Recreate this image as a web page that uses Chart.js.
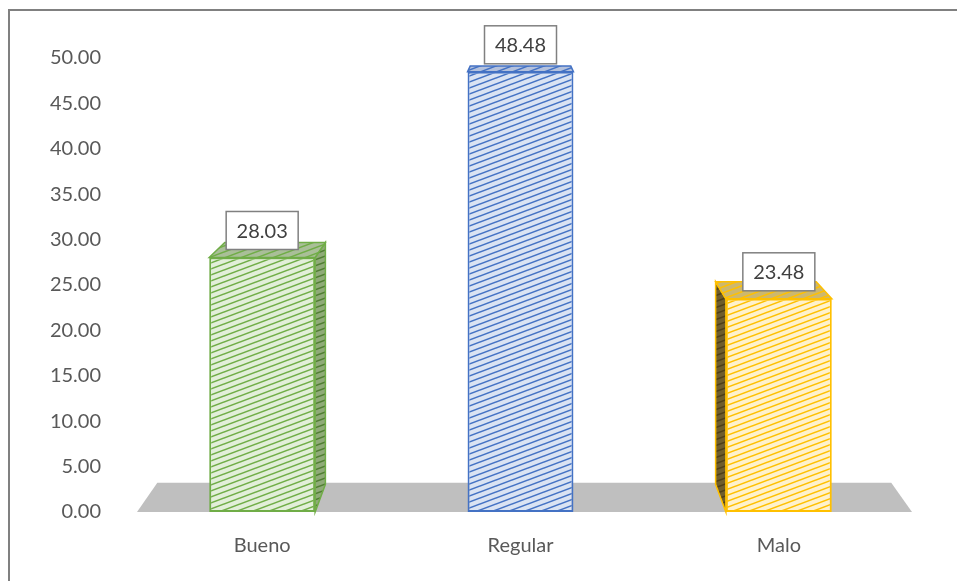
<!DOCTYPE html>
<html>
<head>
<meta charset="utf-8">
<script src="https://cdn.jsdelivr.net/npm/chart.js@4.4.0/dist/chart.umd.min.js"></script>
<style>
  body { margin: 0; background: #fff; }
  #wrap { width: 958px; height: 581px; position: relative; }
</style>
</head>
<body>
<div id="wrap"><canvas id="chart"></canvas></div>
<script>
// data
const categories = ["Bueno", "Regular", "Malo"];
const values = [28.03, 48.48, 23.48];
const yTicks = [0, 5, 10, 15, 20, 25, 30, 35, 40, 45, 50];

// face / line colours per bar
const faceBg   = ["#e2efd9", "#dae3f3", "#fff2cc"];
const faceLine = ["#70ad47", "#4472c4", "#ffc000"];
const sideBg   = ["#8fab78", "#8ea2c8", "#6e5d2c"];
const sideLine = ["#507e32", "#2f5597", "#4d3f17"];
const topBg    = ["#a9bf98", "#b4c1dc", "#cdb86e"];

// diagonal hatch tile
function hatch(bg, fg) {
    const w = 16, h = 6;
    const c = document.createElement("canvas");
    c.width = w; c.height = h;
    const g = c.getContext("2d");
    g.fillStyle = bg;
    g.fillRect(0, 0, w, h);
    g.strokeStyle = fg;
    g.lineWidth = 1.5;
    for (let i = -1; i <= 1; i++) {
        for (let j = -1; j <= 1; j++) {
            g.beginPath();
            g.moveTo(i * w, h + j * h);
            g.lineTo(i * w + w, j * h);
            g.stroke();
        }
    }
    return g.createPattern(c, "repeat");
}

const ctx0 = document.getElementById("chart").getContext("2d");
const frontPatterns = faceBg.map((b, i) => hatch(b, faceLine[i]));
const sidePatterns  = sideBg.map((b, i) => hatch(b, sideLine[i]));
const topPatterns   = topBg.map((b, i) => hatch(b, faceLine[i]));

// perspective: back points pulled towards a vanishing point above the plot
function vanish(chart) {
    const a = chart.chartArea;
    return { x: (a.left + a.right) / 2, y: a.top - 100 };
}
function back(p, v, t) {
    return { x: p.x + (v.x - p.x) * t, y: p.y + (v.y - p.y) * t };
}
function poly(ctx, pts, fill, stroke) {
    ctx.beginPath();
    ctx.moveTo(pts[0].x, pts[0].y);
    for (let k = 1; k < pts.length; k++) ctx.lineTo(pts[k].x, pts[k].y);
    ctx.closePath();
    ctx.fillStyle = fill;
    ctx.fill();
    if (stroke) {
        ctx.strokeStyle = stroke;
        ctx.lineWidth = 1.5;
        ctx.stroke();
    }
}

const frame = {
    id: "frame",
    beforeDraw(chart) {
        const c = chart.ctx;
        c.save();
        c.strokeStyle = "#808080";
        c.lineWidth = 2;
        c.beginPath();
        c.moveTo(9, chart.height);
        c.lineTo(9, 10);
        c.lineTo(chart.width - 1, 10);
        c.stroke();
        c.restore();
    }
};

const depth = {
    id: "depth",
    beforeDatasetsDraw(chart) {
        const c = chart.ctx;
        const a = chart.chartArea;
        const v = vanish(chart);
        const y0 = chart.scales.y.getPixelForValue(0);
        c.save();
        // grey floor
        const fl = { x: a.left + 4, y: y0 }, fr = { x: a.right + 4, y: y0 };
        poly(c, [fl, fr, back(fr, v, 0.053), back(fl, v, 0.053)], "#bfbfbf");

        const meta = chart.getDatasetMeta(0);
        meta.data.forEach((bar, i) => {
            const half = bar.width / 2;
            const L = bar.x - half, R = bar.x + half;
            const tl = { x: L, y: bar.y }, tr = { x: R, y: bar.y };
            const bl = { x: L, y: bar.base }, br = { x: R, y: bar.base };
            const t = 0.05;
            // side face: the one turned towards the vanishing point shows
            if (bar.x < v.x - 20) {
                poly(c, [tr, back(tr, v, t), back(br, v, t), br], sidePatterns[i], faceLine[i]);
            } else if (bar.x > v.x + 20) {
                poly(c, [tl, back(tl, v, t), back(bl, v, t), bl], sidePatterns[i], faceLine[i]);
            }
            // top face
            poly(c, [tl, tr, back(tr, v, t), back(tl, v, t)], topPatterns[i], faceLine[i]);
        });
        c.restore();
    },
    afterDatasetsDraw(chart) {
        const c = chart.ctx;
        const meta = chart.getDatasetMeta(0);
        c.save();
        c.font = "20px Lato";
        c.textAlign = "center";
        c.textBaseline = "middle";
        meta.data.forEach((bar, i) => {
            const w = 72, h = 38;
            const bx = bar.x - w / 2, by = bar.y - 8 - h;
            c.fillStyle = "#ffffff";
            c.fillRect(bx, by, w, h);
            c.strokeStyle = "#808080";
            c.lineWidth = 1.5;
            c.strokeRect(bx, by, w, h);
            c.fillStyle = "#404040";
            c.fillText(values[i].toFixed(2), bar.x, by + h / 2 + 1);
        });
        c.restore();
    }
};

new Chart(ctx0, {
    type: "bar",
    data: {
        labels: categories,
        datasets: [{
            data: values,
            backgroundColor: frontPatterns,
            borderColor: faceLine,
            borderWidth: 2,
            borderSkipped: false,
            categoryPercentage: 1,
            barPercentage: 0.41
        }]
    },
    options: {
        responsive: true,
        maintainAspectRatio: false,
        animation: false,
        layout: { padding: { top: 58, right: 50, left: 0, bottom: 0 } },
        plugins: {
            legend: { display: false },
            tooltip: { enabled: false }
        },
        scales: {
            x: {
                grid: { display: false, drawTicks: false },
                border: { display: false },
                ticks: { color: "#595959", font: { family: "Lato", size: 20 }, padding: 22 },
                afterFit: s => { s.height = 69; }
            },
            y: {
                min: 0,
                max: 50,
                afterBuildTicks: s => { s.ticks = yTicks.map(v => ({ value: v })); },
                grid: { display: false, drawTicks: false },
                border: { display: false },
                ticks: {
                    color: "#595959",
                    font: { family: "Lato", size: 20 },
                    padding: 32,
                    callback: v => Number(v).toFixed(2)
                },
                afterFit: s => { s.width = 133; }
            }
        }
    },
    plugins: [frame, depth]
});
</script>
</body>
</html>
